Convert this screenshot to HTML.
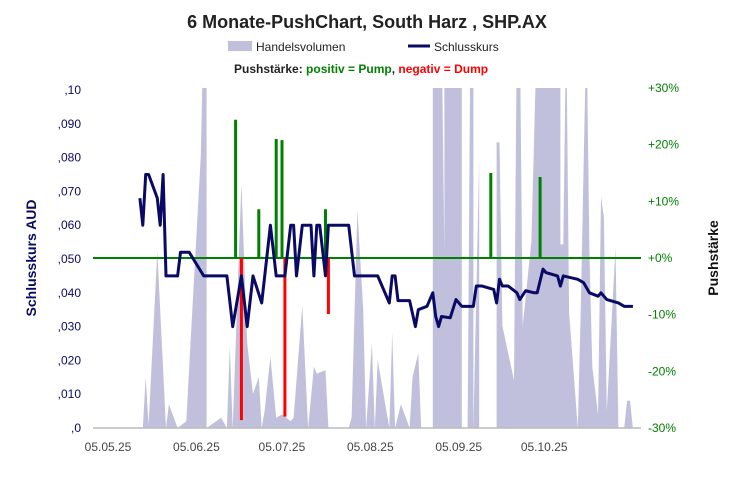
<!DOCTYPE html>
<html><head><meta charset="utf-8"><style>
html,body{margin:0;padding:0;background:#fff}
svg{display:block;font-family:"Liberation Sans",sans-serif}
</style></head><body>
<svg id="c" width="734" height="480" viewBox="0 0 734 480">
<text x="367" y="28" text-anchor="middle" font-size="18" font-weight="bold" fill="#222">6 Monate-PushChart,  South Harz , SHP.AX</text>
<g>
<rect x="228" y="41" width="24" height="10" fill="#c0c0dc"/>
<text x="256" y="51" font-size="12" fill="#222">Handelsvolumen</text>
<line x1="408" y1="46" x2="430" y2="46" stroke="#0a0a64" stroke-width="3"/>
<text x="434" y="51" font-size="12" fill="#222">Schlusskurs</text>
<text x="234" y="73" font-size="12" font-weight="bold"><tspan fill="#222">Pushstärke:  </tspan><tspan fill="#008000">positiv = Pump</tspan><tspan fill="#222">,  </tspan><tspan fill="#ff0000">negativ = Dump</tspan></text>
</g>
<text transform="translate(36,258) rotate(-90)" text-anchor="middle" font-size="14" font-weight="bold" fill="#0a0a64">Schlusskurs AUD</text>
<text transform="translate(718,258) rotate(-90)" text-anchor="middle" font-size="14" font-weight="bold" fill="#111">Pushstärke</text>
<defs><clipPath id="pc"><rect x="93" y="88" width="548" height="340"/></clipPath></defs>
<g id="vol" clip-path="url(#pc)"></g>
<g id="axes"></g>
<g id="push"></g>
<g id="line"></g>
</svg>
<script>
const priceTicks=[",0",",010",",020",",030",",040",",050",",060",",070",",080",",090",",10"];
const pushTicks=["-30%","-20%","-10%","+0%","+10%","+20%","+30%"];
const dateLabels=["05.05.25","05.06.25","05.07.25","05.08.25","05.09.25","05.10.25"];
const dateDays=[0,31,61,92,123,153];
const closeDays=[11,12,13,14,17,18,19,20,24,25,28,33,41,43,46,48,50,53,56,58,61,63,64,65,67,70,71,72,73,75,76,83,85,93,97,98,99,100,104,106,107,110,112,113,114,115,118,120,122,126,127,129,133,134,135,136,138,141,142,144,147,148,150,151,155,156,157,162,164,166,169,170,172,176,178,181];
const closeValues=[.068,.060,.075,.075,.068,.060,.075,.045,.045,.052,.052,.045,.045,.030,.045,.030,.045,.037,.060,.045,.045,.060,.060,.045,.060,.060,.045,.060,.060,.045,.060,.060,.045,.045,.037,.045,.045,.0377,.0377,.030,.035,.036,.040,.033,.030,.033,.0326,.038,.036,.036,.042,.042,.041,.037,.044,.042,.042,.040,.038,.0406,.040,.040,.047,.046,.045,.042,.045,.044,.043,.040,.039,.040,.038,.037,.036,.036];
const volDays=[12,13,14,17,20,21,24,27,28,32,33,34,34,39,41,42,43,46,48,50,52,53,54,56,58,60,63,64,67,69,71,72,75,76,83,84,86,88,89,91,92,93,97,98,99,101,104,105,107,108,112,112,115,116,116,122,122,124,125,126,126,128,128,134,134,135,136,140,141,142,143,146,148,156,156,157,158,159,162,163,165,166,167,169,170,171,172,175,176,178,179,180,181];
const volValues=[0,15,1,52,0,7,0,2,18,80,120,120,0,3,0,24,0,72,25,10,15,0,5,21,3,4,2,3,36,0,18,16,17,0,0,3,64,35,0,25,0,20,0,28,0,7,0,15,22,0,0,120,120,52,120,120,0,0,120,120,0,79,0,0,84,84,30,14,120,120,30,55,120,120,54,54,120,34,0,34,120,52,18,4,68,62,5,53,0,0,8,8,0];
const pushDays=[44,52,58,60,75,132,149,46,61,76];
const pushValues=[24.4,8.6,21,20.8,8.6,15,14.3,-28.6,-28,-9.9];

const NS="http://www.w3.org/2000/svg";
const X0=108,PX=2.9,YB=428,YT=90,RT=88;
const xs=d=>X0+d*PX;
const yp=v=>YB-(v/0.1)*(YB-YT);
const yv=v=>YB-(v/100)*(YB-RT);
const yr=p=>258-p*(258-RT)/30;
function mk(tag,attrs,parent){const e=document.createElementNS(NS,tag);for(const k in attrs)e.setAttribute(k,attrs[k]);parent.appendChild(e);return e;}

const vol=document.getElementById('vol');
let d="M"+xs(volDays[0])+","+YB;
volDays.forEach((dd,i)=>{d+=" L"+xs(dd)+","+yv(volValues[i]);});
d+=" L"+xs(volDays[volDays.length-1])+","+YB+" Z";
const va=mk('path',{d:d,fill:'#c0c0dc'},vol);



const ax=document.getElementById('axes');
const bl=mk('line',{x1:93,y1:YB,x2:641,y2:YB,stroke:'#bbb','stroke-width':1.5},ax);


priceTicks.forEach((t,i)=>{
  const e=mk('text',{x:81,y:yp(i*0.01)+4,'text-anchor':'end','font-size':12,fill:'#0a0a64'},ax);
  e.textContent=t;
  
  
});
pushTicks.forEach((t,i)=>{
  const e=mk('text',{x:648,y:yr(-30+i*10)+4,'font-size':12,fill:'#008000'},ax);
  e.textContent=t;
  
  
});
dateLabels.forEach((t,i)=>{
  const e=mk('text',{x:xs(dateDays[i])-(i?i*1.5:0),y:451,'text-anchor':'middle','font-size':12,fill:'#444'},ax);
  e.textContent=t;
  
  
});
const zl=mk('line',{x1:93,y1:yr(0),x2:641,y2:yr(0),stroke:'#008000','stroke-width':2},ax);



const pg=document.getElementById('push');
pushDays.forEach((dd,i)=>{
  const v=pushValues[i];
  const b=mk('line',{x1:xs(dd),x2:xs(dd),y1:yr(0),y2:yr(v),stroke:v>=0?'#008000':'#ff0000','stroke-width':3},pg);
  
  
});

const lg=document.getElementById('line');
const pts=closeDays.map((dd,i)=>xs(dd)+","+yp(closeValues[i])).join(" ");
const pl=mk('polyline',{points:pts,fill:'none',stroke:'#0a0a64','stroke-width':3,'stroke-linejoin':'round'},lg);


</script>
</body></html>
